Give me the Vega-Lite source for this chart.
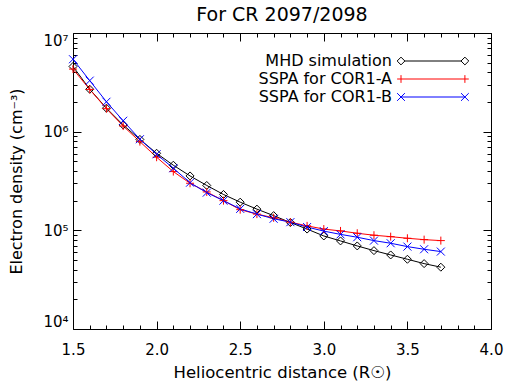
{
  "$schema": "https://vega.github.io/schema/vega-lite/v6.json",
  "width": 418,
  "height": 296,
  "autosize": {"type": "none"},
  "padding": {"left": 73, "top": 33, "right": 19, "bottom": 55},
  "title": {"text": "For CR 2097/2098", "fontSize": 19, "font": "DejaVu Sans", "fontWeight": "normal", "color": "#000", "offset": 6, "anchor": "middle"},
  "config": {
    "view": {"stroke": null},
    "font": "DejaVu Sans",
    "axis": {"grid": false, "domainColor": "#000", "tickColor": "#000", "labelColor": "#000", "titleColor": "#000", "labelFont": "DejaVu Sans", "titleFont": "DejaVu Sans", "titleFontWeight": "normal", "domainWidth": 1, "tickWidth": 1}
  },
  "data": {"values": [
    {"series": "MHD simulation", "r": 1.5, "ne": 4580000},
    {"series": "MHD simulation", "r": 1.6, "ne": 2690000},
    {"series": "MHD simulation", "r": 1.7, "ne": 1730000},
    {"series": "MHD simulation", "r": 1.8, "ne": 1170000},
    {"series": "MHD simulation", "r": 1.9, "ne": 834000},
    {"series": "MHD simulation", "r": 2.0, "ne": 604000},
    {"series": "MHD simulation", "r": 2.1, "ne": 457000},
    {"series": "MHD simulation", "r": 2.2, "ne": 356000},
    {"series": "MHD simulation", "r": 2.3, "ne": 285000},
    {"series": "MHD simulation", "r": 2.4, "ne": 231000},
    {"series": "MHD simulation", "r": 2.5, "ne": 193000},
    {"series": "MHD simulation", "r": 2.6, "ne": 164000},
    {"series": "MHD simulation", "r": 2.7, "ne": 141000},
    {"series": "MHD simulation", "r": 2.8, "ne": 120000},
    {"series": "MHD simulation", "r": 2.9, "ne": 103000},
    {"series": "MHD simulation", "r": 3.0, "ne": 87700},
    {"series": "MHD simulation", "r": 3.1, "ne": 78100},
    {"series": "MHD simulation", "r": 3.2, "ne": 69500},
    {"series": "MHD simulation", "r": 3.3, "ne": 62300},
    {"series": "MHD simulation", "r": 3.4, "ne": 56300},
    {"series": "MHD simulation", "r": 3.5, "ne": 50900},
    {"series": "MHD simulation", "r": 3.6, "ne": 46000},
    {"series": "MHD simulation", "r": 3.7, "ne": 42300},
    {"series": "SSPA for COR1-A", "r": 1.5, "ne": 4310000},
    {"series": "SSPA for COR1-A", "r": 1.6, "ne": 2680000},
    {"series": "SSPA for COR1-A", "r": 1.7, "ne": 1710000},
    {"series": "SSPA for COR1-A", "r": 1.8, "ne": 1140000},
    {"series": "SSPA for COR1-A", "r": 1.9, "ne": 793000},
    {"series": "SSPA for COR1-A", "r": 2.0, "ne": 551000},
    {"series": "SSPA for COR1-A", "r": 2.1, "ne": 394000},
    {"series": "SSPA for COR1-A", "r": 2.2, "ne": 300000},
    {"series": "SSPA for COR1-A", "r": 2.3, "ne": 245000},
    {"series": "SSPA for COR1-A", "r": 2.4, "ne": 200000},
    {"series": "SSPA for COR1-A", "r": 2.5, "ne": 162000},
    {"series": "SSPA for COR1-A", "r": 2.6, "ne": 146000},
    {"series": "SSPA for COR1-A", "r": 2.7, "ne": 134000},
    {"series": "SSPA for COR1-A", "r": 2.8, "ne": 121000},
    {"series": "SSPA for COR1-A", "r": 2.9, "ne": 111000},
    {"series": "SSPA for COR1-A", "r": 3.0, "ne": 103000},
    {"series": "SSPA for COR1-A", "r": 3.1, "ne": 98600},
    {"series": "SSPA for COR1-A", "r": 3.2, "ne": 93400},
    {"series": "SSPA for COR1-A", "r": 3.3, "ne": 89200},
    {"series": "SSPA for COR1-A", "r": 3.4, "ne": 86300},
    {"series": "SSPA for COR1-A", "r": 3.5, "ne": 83100},
    {"series": "SSPA for COR1-A", "r": 3.6, "ne": 80500},
    {"series": "SSPA for COR1-A", "r": 3.7, "ne": 78700},
    {"series": "SSPA for COR1-B", "r": 1.5, "ne": 5420000},
    {"series": "SSPA for COR1-B", "r": 1.6, "ne": 3290000},
    {"series": "SSPA for COR1-B", "r": 1.7, "ne": 2010000},
    {"series": "SSPA for COR1-B", "r": 1.8, "ne": 1290000},
    {"series": "SSPA for COR1-B", "r": 1.9, "ne": 838000},
    {"series": "SSPA for COR1-B", "r": 2.0, "ne": 590000},
    {"series": "SSPA for COR1-B", "r": 2.1, "ne": 426000},
    {"series": "SSPA for COR1-B", "r": 2.2, "ne": 304000},
    {"series": "SSPA for COR1-B", "r": 2.3, "ne": 241000},
    {"series": "SSPA for COR1-B", "r": 2.4, "ne": 200000},
    {"series": "SSPA for COR1-B", "r": 2.5, "ne": 165000},
    {"series": "SSPA for COR1-B", "r": 2.6, "ne": 146000},
    {"series": "SSPA for COR1-B", "r": 2.7, "ne": 131000},
    {"series": "SSPA for COR1-B", "r": 2.8, "ne": 121000},
    {"series": "SSPA for COR1-B", "r": 2.9, "ne": 108000},
    {"series": "SSPA for COR1-B", "r": 3.0, "ne": 98200},
    {"series": "SSPA for COR1-B", "r": 3.1, "ne": 91000},
    {"series": "SSPA for COR1-B", "r": 3.2, "ne": 85100},
    {"series": "SSPA for COR1-B", "r": 3.3, "ne": 78700},
    {"series": "SSPA for COR1-B", "r": 3.4, "ne": 74000},
    {"series": "SSPA for COR1-B", "r": 3.5, "ne": 68400},
    {"series": "SSPA for COR1-B", "r": 3.6, "ne": 64300},
    {"series": "SSPA for COR1-B", "r": 3.7, "ne": 60900}
  ]},
  "layer": [
    {
      "mark": {"type": "point", "filled": false, "opacity": 0, "strokeWidth": 1},
      "encoding": {
        "x": {"field": "r", "type": "quantitative", "scale": {"domain": [1.5, 4], "nice": false, "zero": false}, "axis": null},
        "y": {"field": "ne", "type": "quantitative", "scale": {"type": "log", "domain": [10000, 10000000], "nice": false}, "axis": null},
        "color": {"field": "series", "type": "nominal",
          "scale": {"domain": ["MHD simulation", "SSPA for COR1-A", "SSPA for COR1-B"], "range": ["#000000", "#ff0000", "#0000ff"]},
          "legend": {"orient": "none", "legendX": 320, "legendY": 20, "title": null, "labelFontSize": 16, "labelFont": "DejaVu Sans", "labelColor": "#000", "labelAlign": "right", "labelOffset": -17, "labelLimit": 400, "symbolSize": 60, "symbolStrokeWidth": 1, "symbolOpacity": 1, "symbolFillColor": "transparent", "padding": 0, "rowPadding": 2}},
        "shape": {"field": "series", "type": "nominal",
          "scale": {"domain": ["MHD simulation", "SSPA for COR1-A", "SSPA for COR1-B"], "range": [
            "M-1,0L0,-1L1,0L0,1Z M1,0L15.5,0 M15.5,0L16.5,-1L17.5,0L16.5,1Z",
            "M-1,0L17.5,0 M0,-1L0,1 M16.5,-1L16.5,1",
            "M-1,-1L1,1 M-1,1L1,-1 M0,0L16.5,0 M15.5,-1L17.5,1 M15.5,1L17.5,-1"]},
          "legend": {"orient": "none", "legendX": 320, "legendY": 20, "title": null, "labelFontSize": 16, "labelFont": "DejaVu Sans", "labelColor": "#000", "labelAlign": "right", "labelOffset": -17, "labelLimit": 400, "symbolSize": 60, "symbolStrokeWidth": 1, "symbolOpacity": 1, "symbolFillColor": "transparent", "padding": 0, "rowPadding": 2}}
      }
    },
    {
      "mark": {"type": "line", "strokeWidth": 1},
      "encoding": {
        "x": {"field": "r", "type": "quantitative", "scale": {"domain": [1.5, 4], "nice": false, "zero": false},
          "axis": {"orient": "bottom", "values": [1.5,1.6,1.7,1.8,1.9,2.0,2.1,2.2,2.3,2.4,2.5,2.6,2.7,2.8,2.9,3.0,3.1,3.2,3.3,3.4,3.5,3.6,3.7,3.8,3.9,4.0],
            "tickSize": {"condition": {"test": "indexof([1.5,2,2.5,3,3.5,4], datum.value) >= 0", "value": -8}, "value": -4},
            "labelExpr": "indexof([1.5,2,2.5,3,3.5,4], datum.value) >= 0 ? format(datum.value, '.1f') : ''",
            "labelFlush": false, "labelOverlap": false, "labelBound": false, "labelFontSize": 15, "labelPadding": 21,
            "title": "Heliocentric distance (R☉)", "titleFontSize": 16.5, "titlePadding": 3}},
        "y": {"field": "ne", "type": "quantitative", "scale": {"type": "log", "domain": [10000, 10000000], "nice": false},
          "axis": {"orient": "left", "values": [10000,20000,30000,40000,50000,60000,70000,80000,90000,100000,200000,300000,400000,500000,600000,700000,800000,900000,1000000,2000000,3000000,4000000,5000000,6000000,7000000,8000000,9000000,10000000],
            "tickSize": {"condition": {"test": "indexof([10000,100000,1000000,10000000], datum.value) >= 0", "value": -8}, "value": -4},
            "labelExpr": "datum.value == 10000 ? '10⁴' : datum.value == 100000 ? '10⁵' : datum.value == 1000000 ? '10⁶' : datum.value == 10000000 ? '10⁷' : ''",
            "labelFlush": true, "labelOverlap": false, "labelBound": false, "labelFontSize": 15, "labelPadding": 13,
            "title": "Electron density (cm⁻³)", "titleFontSize": 16, "titlePadding": 18}},
        "color": {"field": "series", "type": "nominal",
          "scale": {"domain": ["MHD simulation", "SSPA for COR1-A", "SSPA for COR1-B"], "range": ["#000000", "#ff0000", "#0000ff"]},
          "legend": {"orient": "none", "legendX": 320, "legendY": 20, "title": null, "labelFontSize": 16, "labelFont": "DejaVu Sans", "labelColor": "#000", "labelAlign": "right", "labelOffset": -17, "labelLimit": 400, "symbolSize": 60, "symbolStrokeWidth": 1, "symbolOpacity": 1, "symbolFillColor": "transparent", "padding": 0, "rowPadding": 2}}
      }
    },
    {
      "transform": [{"filter": {"field": "series", "equal": "MHD simulation"}}],
      "mark": {"type": "point", "shape": "M-1,0L0,-1L1,0L0,1Z", "filled": false, "color": "#000000", "strokeWidth": 1, "opacity": 1, "size": 64},
      "encoding": {
        "x": {"field": "r", "type": "quantitative", "scale": {"domain": [1.5, 4], "nice": false, "zero": false},
          "axis": {"orient": "top", "values": [1.5,1.6,1.7,1.8,1.9,2.0,2.1,2.2,2.3,2.4,2.5,2.6,2.7,2.8,2.9,3.0,3.1,3.2,3.3,3.4,3.5,3.6,3.7,3.8,3.9,4.0],
            "tickSize": {"condition": {"test": "indexof([1.5,2,2.5,3,3.5,4], datum.value) >= 0", "value": -8}, "value": -4},
            "labels": false, "title": null}},
        "y": {"field": "ne", "type": "quantitative", "scale": {"type": "log", "domain": [10000, 10000000], "nice": false},
          "axis": {"orient": "right", "values": [10000,20000,30000,40000,50000,60000,70000,80000,90000,100000,200000,300000,400000,500000,600000,700000,800000,900000,1000000,2000000,3000000,4000000,5000000,6000000,7000000,8000000,9000000,10000000],
            "tickSize": {"condition": {"test": "indexof([10000,100000,1000000,10000000], datum.value) >= 0", "value": -8}, "value": -4},
            "labels": false, "title": null}}
      }
    },
    {
      "transform": [{"filter": {"field": "series", "equal": "SSPA for COR1-A"}}],
      "mark": {"type": "point", "shape": "M-1,0L1,0M0,-1L0,1", "filled": false, "color": "#ff0000", "strokeWidth": 1, "opacity": 1, "size": 64},
      "encoding": {
        "x": {"field": "r", "type": "quantitative", "scale": {"domain": [1.5, 4], "nice": false, "zero": false}, "axis": null},
        "y": {"field": "ne", "type": "quantitative", "scale": {"type": "log", "domain": [10000, 10000000], "nice": false}, "axis": null}
      }
    },
    {
      "transform": [{"filter": {"field": "series", "equal": "SSPA for COR1-B"}}],
      "mark": {"type": "point", "shape": "M-1,-1L1,1M-1,1L1,-1", "filled": false, "color": "#0000ff", "strokeWidth": 1, "opacity": 1, "size": 64},
      "encoding": {
        "x": {"field": "r", "type": "quantitative", "scale": {"domain": [1.5, 4], "nice": false, "zero": false}, "axis": null},
        "y": {"field": "ne", "type": "quantitative", "scale": {"type": "log", "domain": [10000, 10000000], "nice": false}, "axis": null}
      }
    }
  ],
  "resolve": {"axis": {"x": "independent", "y": "independent"}}
}
